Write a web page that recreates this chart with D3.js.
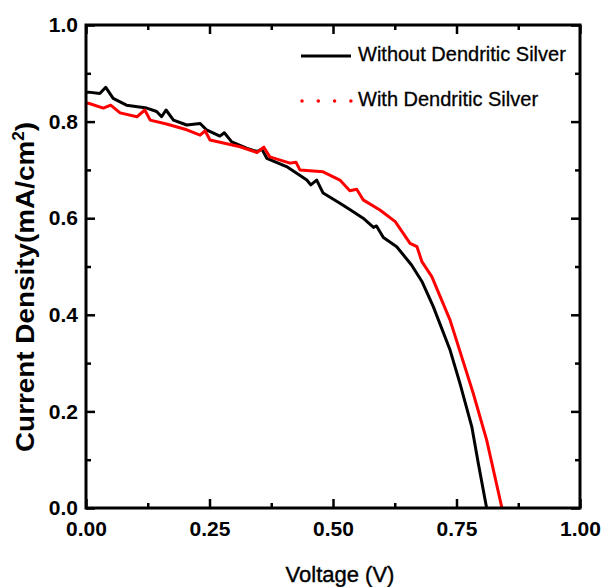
<!DOCTYPE html>
<html>
<head>
<meta charset="utf-8">
<script src="https://cdn.jsdelivr.net/npm/d3@7"></script>
<style>
  body { margin: 0; background: #fff; }
  text { font-family: "Liberation Sans", Arial, sans-serif; }
</style>
</head>
<body>
<div id="chart"></div>
<script>
// Without dendritic silver (black)
const vWithout = [0, 0.005, 0.028, 0.040, 0.055, 0.082, 0.123, 0.143, 0.153, 0.162, 0.177, 0.204, 0.231, 0.244, 0.271, 0.280, 0.295, 0.325, 0.346, 0.356, 0.366, 0.406, 0.447, 0.455, 0.467, 0.480, 0.514, 0.534, 0.561, 0.582, 0.588, 0.602, 0.629, 0.659, 0.680, 0.703, 0.737, 0.757, 0.781, 0.794, 0.811];
const jWithout = [0.860, 0.861, 0.858, 0.871, 0.848, 0.834, 0.828, 0.821, 0.810, 0.824, 0.803, 0.793, 0.796, 0.783, 0.770, 0.777, 0.758, 0.745, 0.738, 0.743, 0.724, 0.707, 0.679, 0.669, 0.679, 0.652, 0.631, 0.618, 0.600, 0.581, 0.584, 0.560, 0.541, 0.503, 0.469, 0.417, 0.327, 0.258, 0.168, 0.093, 0.0];

// With dendritic silver (red)
const vWith = [0, 0.005, 0.035, 0.050, 0.069, 0.103, 0.119, 0.130, 0.163, 0.204, 0.231, 0.241, 0.251, 0.312, 0.346, 0.360, 0.372, 0.413, 0.425, 0.433, 0.480, 0.514, 0.534, 0.548, 0.561, 0.595, 0.626, 0.656, 0.670, 0.680, 0.700, 0.737, 0.784, 0.811, 0.842];
const jWith = [0.838, 0.838, 0.828, 0.834, 0.818, 0.810, 0.824, 0.803, 0.795, 0.783, 0.772, 0.781, 0.762, 0.748, 0.736, 0.747, 0.727, 0.714, 0.716, 0.700, 0.696, 0.679, 0.657, 0.660, 0.638, 0.617, 0.593, 0.548, 0.541, 0.510, 0.479, 0.389, 0.237, 0.141, 0.0];

const xMajor = [0, 0.25, 0.5, 0.75, 1.0];
const xMinor = [0.125, 0.375, 0.625, 0.875];
const yMajor = [0, 0.2, 0.4, 0.6, 0.8, 1.0];
const yMinor = [0.1, 0.3, 0.5, 0.7, 0.9];

const legendLabels = ["Without Dendritic Silver", "With Dendritic Silver"];

const width = 601, height = 587;
const margin = { top: 25, right: 21, bottom: 79, left: 86 };
const w = width - margin.left - margin.right;
const h = height - margin.top - margin.bottom;

const svg = d3.select("#chart").append("svg")
  .attr("width", width).attr("height", height);

const g = svg.append("g")
  .attr("transform", `translate(${margin.left},${margin.top})`);

const x = d3.scaleLinear().domain([0, 1]).range([0, w]);
const y = d3.scaleLinear().domain([0, 1]).range([h, 0]);

g.append("clipPath").attr("id", "clip")
  .append("rect").attr("width", w).attr("height", h);

// Curves
const line = d3.line().x(d => x(d[0])).y(d => y(d[1]));
const series = [
  { pts: d3.zip(vWithout, jWithout), color: "#000" },
  { pts: d3.zip(vWith, jWith), color: "#ff0000" },
];
g.append("g").attr("clip-path", "url(#clip)")
  .selectAll("path").data(series).join("path")
  .attr("d", d => line(d.pts))
  .attr("fill", "none")
  .attr("stroke", d => d.color)
  .attr("stroke-width", 3)
  .attr("stroke-linejoin", "round");

// Axes: ticks inward on all four sides
function styleAxis(sel) {
  sel.select(".domain").remove();
  sel.selectAll(".tick line").attr("stroke", "#000").attr("stroke-width", 2.5);
  sel.selectAll("text").attr("font-size", 21).attr("font-weight", "bold").attr("fill", "#000");
}

g.append("g").attr("transform", `translate(0,${h})`)
  .call(d3.axisBottom(x).tickValues(xMajor).tickSize(-9).tickPadding(13).tickFormat(d3.format(".2f")))
  .call(styleAxis);
g.append("g").attr("transform", `translate(0,${h})`)
  .call(d3.axisBottom(x).tickValues(xMinor).tickSize(-5).tickFormat(""))
  .call(styleAxis);
g.append("g")
  .call(d3.axisTop(x).tickValues(xMajor).tickSize(-9).tickFormat(""))
  .call(styleAxis);
g.append("g")
  .call(d3.axisTop(x).tickValues(xMinor).tickSize(-5).tickFormat(""))
  .call(styleAxis);

g.append("g")
  .call(d3.axisLeft(y).tickValues(yMajor).tickSize(-9).tickPadding(8).tickFormat(d3.format(".1f")))
  .call(styleAxis);
g.append("g")
  .call(d3.axisLeft(y).tickValues(yMinor).tickSize(-5).tickFormat(""))
  .call(styleAxis);
g.append("g").attr("transform", `translate(${w},0)`)
  .call(d3.axisRight(y).tickValues(yMajor).tickSize(-9).tickFormat(""))
  .call(styleAxis);
g.append("g").attr("transform", `translate(${w},0)`)
  .call(d3.axisRight(y).tickValues(yMinor).tickSize(-5).tickFormat(""))
  .call(styleAxis);

// Frame
g.append("rect")
  .attr("width", w).attr("height", h)
  .attr("fill", "none").attr("stroke", "#000").attr("stroke-width", 3);

// Axis titles
svg.append("text")
  .attr("x", 340).attr("y", 582)
  .attr("text-anchor", "middle")
  .attr("font-size", 22).attr("fill", "#000")
  .attr("stroke", "#000").attr("stroke-width", 0.4)
  .text("Voltage (V)");

const yTitle = svg.append("text")
  .attr("transform", "rotate(-90)")
  .attr("x", -287).attr("y", 34)
  .attr("text-anchor", "middle")
  .attr("textLength", 330).attr("lengthAdjust", "spacingAndGlyphs")
  .attr("font-size", 26).attr("font-weight", "bold").attr("fill", "#000");
yTitle.append("tspan").text("Current Density(mA/cm");
yTitle.append("tspan").attr("font-size", 16).attr("dy", -10).text("2");
yTitle.append("tspan").attr("dy", 10).text(")");

// Legend
const lg = svg.append("g");
lg.append("line")
  .attr("x1", 301).attr("x2", 351).attr("y1", 56).attr("y2", 56)
  .attr("stroke", "#000").attr("stroke-width", 3);
lg.append("line")
  .attr("x1", 302).attr("x2", 351).attr("y1", 101).attr("y2", 101)
  .attr("stroke", "#ff0000").attr("stroke-width", 3.5)
  .attr("stroke-dasharray", "0 16.3").attr("stroke-linecap", "round");
lg.selectAll("text.leg").data(legendLabels).join("text")
  .attr("class", "leg")
  .attr("x", 358).attr("y", (d, i) => 61 + i * 45)
  .attr("font-size", 20).attr("fill", "#000")
  .attr("stroke", "#000").attr("stroke-width", 0.3)
  .text(d => d);
</script>
</body>
</html>
